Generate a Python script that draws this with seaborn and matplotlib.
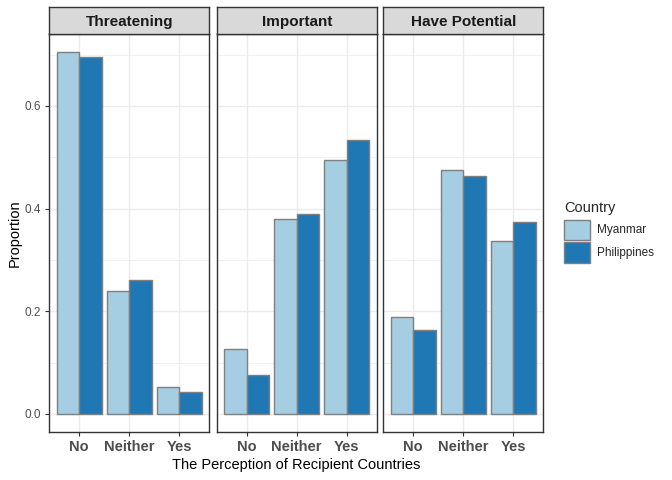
import numpy as np
import pandas as pd
import matplotlib
matplotlib.use("Agg")
import matplotlib.pyplot as plt
from matplotlib.patches import Patch
import seaborn as sns

panels = ["Threatening", "Important", "Have Potential"]
responses = ["No", "Neither", "Yes"]
countries = ["Myanmar", "Philippines"]
myanmar = {
    "Threatening": [0.705, 0.240, 0.053],
    "Important": [0.127, 0.379, 0.494],
    "Have Potential": [0.188, 0.475, 0.336],
}
philippines = {
    "Threatening": [0.696, 0.260, 0.043],
    "Important": [0.076, 0.389, 0.534],
    "Have Potential": [0.164, 0.463, 0.373],
}
y_ticks = [0.0, 0.2, 0.4, 0.6]
y_tick_labels = ["0.0", "0.2", "0.4", "0.6"]

rows = []
for p in panels:
    for i, r in enumerate(responses):
        rows.append((p, r, "Myanmar", myanmar[p][i]))
        rows.append((p, r, "Philippines", philippines[p][i]))
df = pd.DataFrame(rows, columns=["panel", "response", "country", "prop"])

sns.set_theme(style="white")
plt.rcParams["font.family"] = ["Liberation Sans", "DejaVu Sans"]

palette = {"Myanmar": "#A6CEE3", "Philippines": "#1F78B4"}
W, H = 672, 480
fig = plt.figure(figsize=(6.72, 4.8), dpi=100)

lefts = [49.3, 216.7, 383.3]
pw = 160.0
top, bottom = 34.0, 432.0
strip_top = 7.0
ymax = max(max(myanmar[p] + philippines[p]) for p in panels)
ylim = (-0.05 * ymax, 1.05 * ymax)

for k, p in enumerate(panels):
    ax = fig.add_axes([lefts[k] / W, 1 - bottom / H, pw / W, (bottom - top) / H])
    sub = df[df.panel == p]
    sns.barplot(data=sub, x="response", y="prop", hue="country", order=responses,
                hue_order=countries, palette=palette, width=0.9, dodge=True,
                edgecolor="#7F7F7F", linewidth=1.0, saturation=1, ax=ax,
                legend=False, errorbar=None)
    ax.set_xlim(-0.6, 2.6)
    ax.set_ylim(*ylim)
    ax.set_axisbelow(True)
    ax.set_yticks(y_ticks)
    ax.set_yticks([0.1, 0.3, 0.5, 0.7], minor=True)
    ax.grid(True, which="major", color="#EBEBEB", linewidth=1.0)
    ax.grid(True, which="minor", axis="y", color="#EBEBEB", linewidth=0.5)
    for s in ax.spines.values():
        s.set_color("#333333")
        s.set_linewidth(1.0)
    ax.set_xlabel("")
    ax.set_ylabel("")
    ax.tick_params(axis="x", which="major", length=3, width=0.8, color="#333333",
                   labelsize=10.5, labelcolor="#4D4D4D", pad=3, bottom=True)
    for lbl in ax.get_xticklabels():
        lbl.set_fontweight("bold")
    if k == 0:
        ax.set_yticklabels(y_tick_labels)
        ax.tick_params(axis="y", which="major", length=3, width=0.8, color="#333333",
                       labelsize=8.5, labelcolor="#4D4D4D", pad=3, left=True)
    else:
        ax.tick_params(axis="y", which="major", left=False, labelleft=False)
    ax.tick_params(axis="y", which="minor", left=False)

    sax = fig.add_axes([lefts[k] / W, 1 - top / H, pw / W, (top - strip_top) / H])
    sax.set_facecolor("#D9D9D9")
    sax.set_xticks([])
    sax.set_yticks([])
    for s in sax.spines.values():
        s.set_color("#333333")
        s.set_linewidth(1.0)
    sax.text(0.5, 0.45, p, ha="center", va="center", fontsize=11,
             fontweight="bold", color="#1A1A1A", transform=sax.transAxes)

fig.text(15 / W, 1 - (top + bottom) / 2 / H, "Proportion", rotation=90,
         ha="center", va="center", fontsize=10.5, color="black")
fig.text((lefts[0] + lefts[2] + pw) / 2 / W, 1 - 465 / H,
         "The Perception of Recipient Countries", ha="center", va="center",
         fontsize=10.5, color="black")

handles = [Patch(facecolor=palette[c], edgecolor="#7F7F7F", linewidth=1.0, label=c)
           for c in countries]
leg = fig.legend(handles=handles, title="Country", loc="upper left",
                 bbox_to_anchor=(562 / W, 1 - 199 / H), frameon=False,
                 fontsize=8.5, title_fontsize=10.5, handlelength=2.2,
                 handleheight=2.3, handletextpad=0.55, labelspacing=0.2,
                 borderaxespad=0, borderpad=0.2)
leg._legend_box.align = "left"
leg._legend_box.sep = 3

fig.savefig("out.png", dpi=100)
